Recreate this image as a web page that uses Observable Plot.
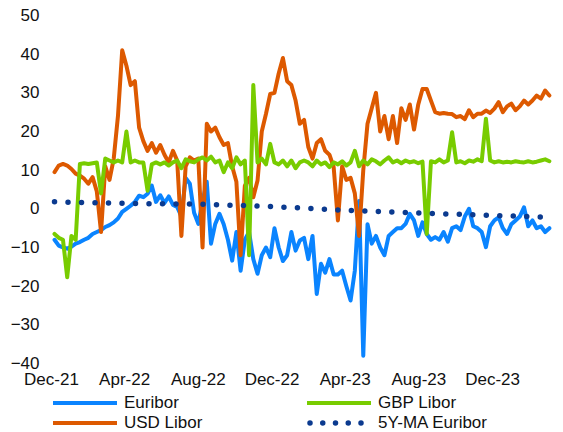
<!DOCTYPE html>
<html><head><meta charset="utf-8">
<script src="https://cdn.jsdelivr.net/npm/d3@7"></script>
<script src="https://cdn.jsdelivr.net/npm/@observablehq/plot@0.6"></script>
<style>
body{margin:0;background:#fff;font-family:"Liberation Sans",Arial,sans-serif;}
#legend{position:relative;height:40px;font-size:17px;color:#111;}
.item{position:absolute;display:flex;align-items:center;height:20px;white-space:nowrap;}
.item svg{margin-right:7px;display:block}
</style></head><body>
<div id="chart"></div>
<div id="legend"></div>
<script>
// weekly observations starting 2021-12-06
const startDate = "2021-12-06";

const euribor = [
-8, -9.5, -10, -10.3, -9.8, -9, -8.6, -8, -7.5, -6.5,
-6, -5.5, -4.7, -4.2, -3.5, -2.5, -0.8, 0, 0.8, 1.8,
3.4, 3, 3.9, 6, 1.8, 3.5, 1.5, 3.2, 1, 0.5,
-2, 8, 6.5, -1, -3.9, 2, 7, -9, -3.9, -1.3,
-4, -8, -13.4, -6, -16, -8, -6, -13, -16.8, -12,
-10, -12.5, -5, -10, -13.5, -12, -6, -10.8, -8.2, -7.5,
-13, -7, -22, -14.2, -16.5, -13, -17, -17, -16, -20,
-23.7, -16, 2, -38, -4, -9, -7, -10, -12, -7,
-6, -5, -5, -3.9, -1.3, -3, -7, -3.5, -6.5, -8,
-7.3, -8, -6, -8.5, -5, -4.5, -5.5, -2, 0, -4.5,
-5, -6, -9.9, -4.5, -3, -2.2, -5, -6.5, -4, -3,
-2, 0.4, -4.5, -3, -5, -4.5, -6, -5
];

const gbpLibor = [
-6.5, -7.5, -8, -17.7, -7, -8, 11.6, 11.8, 11.6, 11.8,
12, 4, 13, 12.5, 12, 12.5, 12, 20, 12, 12.5,
12, 12, 4.7, 11.5, 12, 11.5, 12, 11.2, 12, 12.5,
10.5, 12.8, 12.3, 12, 12.8, 13.3, 12.5, 13.5, 12, 12.5,
9.5, 12, 10.5, 13.3, 11.5, 12.5, -12, 32, 12, 13,
11.5, 16.8, 12, 11.5, 12.5, 11, 12.5, 10.5, 12, 12.5,
12, 11, 12.5, 11.5, 12, 10.8, 12, 11.5, 12.3, 11.2,
12, 15, 11, 12.5, 11.5, 12.8, 12.3, 11.5, 12.5, 13.3,
12, 12.5, 11.8, 12.5, 12, 12.3, 11.8, 12.2, -6.5, 12.3,
12, 12.8, 12, 12.5, 19.8, 12, 12.3, 11.8, 12.5, 12.2,
12.8, 12.3, 23.3, 12.5, 12, 12.3, 12, 12.2, 12, 12.3,
12.1, 12, 12.3, 12, 12.2, 12.5, 12.8, 12.3
];

const usdLibor = [
9.5, 11.2, 11.6, 11.2, 10.3, 9.1, 8.6, 7.8, 6.5, 8.2,
4.5, -6, 11, 7.5, 13, 24, 41, 37, 32, 33,
21, 17.5, 15, 17, 14.5, 16.5, 14, 12, 15, 12.5,
-7, 11, 13.3, 12.5, 13, -10, 22, 20, 21, 18.5,
16.5, 17, 11, 7, -12, 6, 8, 3, 7.3, 20,
24.6, 29.7, 30, 35, 39, 33, 32, 28, 22, 23,
16, 13, 17, 18, 15, 14, 10.8, -3, 11, 7.5,
8, 4, -7, 10, 22, 26, 30, 20, 24, 18,
24, 17, 26, 23, 27, 20.5, 27, 31, 31, 28,
25, 24.6, 24.8, 24.6, 24.5, 23.7, 24, 23.2, 25.5, 23.7,
24.6, 24.6, 25.4, 24.8, 25.9, 27.6, 25, 26.5, 27.2, 25.5,
26.5, 28, 27, 28, 29.3, 28.5, 30.6, 29.3
];

const maDates = ["2021-12-06","2022-04-01","2022-08-01","2022-12-01","2023-04-01","2023-08-01","2023-12-01","2024-03-04"];
const maEuribor = [1.8, 1.4, 1.2, 0.6, -0.4, -1.1, -1.7, -2.2];

const xTicks = ["2021-12-01","2022-04-01","2022-08-01","2022-12-01","2023-04-01","2023-08-01","2023-12-01"];
const yTicks = [-40, -30, -20, -10, 0, 10, 20, 30, 40, 50];

const seriesNames = ["Euribor", "GBP Libor", "USD Libor", "5Y-MA Euribor"];
const seriesColors = ["#0a84ff", "#78cc00", "#dd5900", "#0b3a8f"];

const t0 = new Date(startDate);
const dates = euribor.map((_, i) => d3.utcDay.offset(t0, 7 * i));
const rows = vals => vals.map((v, i) => ({date: dates[i], value: v}));
const maRows = maEuribor.map((v, i) => ({date: new Date(maDates[i]), value: v}));

const chart = Plot.plot({
  width: 563,
  height: 392,
  marginLeft: 51,
  marginRight: 10.5,
  marginTop: 15,
  marginBottom: 29,
  style: {fontFamily: '"Liberation Sans", Arial, sans-serif', fontSize: "17px", color: "#111", background: "#fff", overflow: "visible"},
  x: {type: "utc", domain: [new Date("2021-12-01"), new Date("2024-03-10")],
      ticks: xTicks.map(d => new Date(d)), tickFormat: d3.utcFormat("%b-%y"),
      tickSize: 0, tickPadding: 9, label: null},
  y: {domain: [-40, 50], ticks: yTicks, tickSize: 0, tickPadding: 12, label: null},
  marks: [
    Plot.line(rows(euribor), {x: "date", y: "value", stroke: seriesColors[0], strokeWidth: 4}),
    Plot.line(rows(usdLibor), {x: "date", y: "value", stroke: seriesColors[2], strokeWidth: 4}),
    Plot.line(rows(gbpLibor), {x: "date", y: "value", stroke: seriesColors[1], strokeWidth: 4}),
    Plot.line(maRows, {x: "date", y: "value", stroke: seriesColors[3], strokeWidth: 5.5,
      strokeDasharray: "0 13.5", strokeLinecap: "round"})
  ]
});
document.getElementById("chart").appendChild(chart);

// legend
const legend = document.getElementById("legend");
const layout = [
  {i: 0, left: 53, top: 1},
  {i: 1, left: 307, top: 1},
  {i: 2, left: 53, top: 21},
  {i: 3, left: 307, top: 21}
];
for (const {i, left, top} of layout) {
  const item = document.createElement("div");
  item.className = "item";
  item.style.left = left + "px";
  item.style.top = top + "px";
  const dotted = i === 3;
  item.innerHTML =
    `<svg width="64" height="8"><line x1="${dotted ? 3 : 0}" y1="4" x2="${dotted ? 56 : 64}" y2="4" stroke="${seriesColors[i]}" stroke-width="${dotted ? 5.5 : 4}" stroke-linecap="${dotted ? "round" : "butt"}" ${dotted ? 'stroke-dasharray="0 12.75"' : ""}/></svg><span>${seriesNames[i]}</span>`;
  legend.appendChild(item);
}
</script>
</body></html>
